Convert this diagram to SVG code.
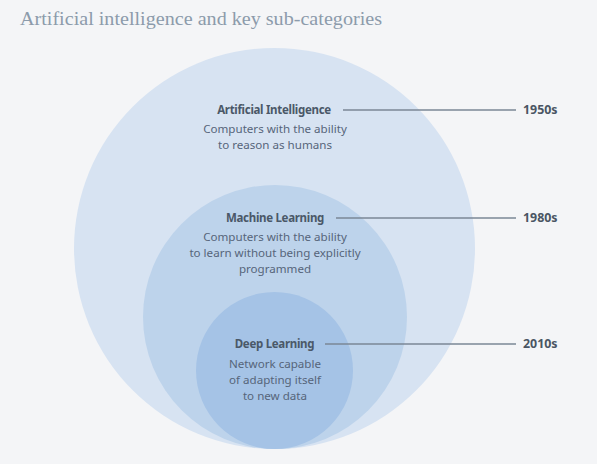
<svg xmlns="http://www.w3.org/2000/svg" width="597" height="464" viewBox="0 0 597 464">
<style>
.title{font-family:"Liberation Serif","DejaVu Serif",serif;font-size:19px;fill:#8c9bab}
.h{font-family:"Noto Sans","Open Sans",sans-serif;font-size:11.5px;font-weight:bold;fill:#4a5868;text-anchor:middle;letter-spacing:-0.3px}
.d{font-family:"Noto Sans","Open Sans",sans-serif;font-size:11.6px;fill:#56657a;text-anchor:middle}
.y{font-family:"Noto Sans","Open Sans",sans-serif;font-size:12.4px;font-weight:bold;fill:#4a5563}
.ln{stroke:#7b8796;stroke-width:1.5;fill:none}
</style>
<rect width="597" height="464" fill="#f4f5f7"/>
<text class="title" x="20" y="25" textLength="362" lengthAdjust="spacingAndGlyphs">Artificial intelligence and key sub-categories</text>
<g id="ai">
<circle cx="274.5" cy="248.5" r="200.5" fill="#d7e3f2"/>
<text class="h" x="274" y="114">Artificial Intelligence</text>
<text class="d" x="275" y="133">Computers with the ability</text>
<text class="d" x="275" y="149">to reason as humans</text>
</g>
<g id="ml">
<circle cx="275" cy="317" r="132" fill="#bdd3eb"/>
<text class="h" x="275" y="222">Machine Learning</text>
<text class="d" x="275" y="241">Computers with the ability</text>
<text class="d" x="275" y="257">to learn without being explicitly</text>
<text class="d" x="275" y="273">programmed</text>
</g>
<g id="dl">
<circle cx="274.5" cy="370.5" r="78.5" fill="#a5c3e6"/>
<text class="h" x="274.5" y="348">Deep Learning</text>
<text class="d" x="275" y="368">Network capable</text>
<text class="d" x="275" y="384">of adapting itself</text>
<text class="d" x="275" y="400">to new data</text>
</g>
<g id="connectors">
<line class="ln" x1="343" y1="110" x2="516" y2="110"/>
<line class="ln" x1="336" y1="218" x2="516" y2="218"/>
<line class="ln" x1="325" y1="344" x2="516" y2="344"/>
</g>
<g id="dates">
<text class="y" x="523" y="114">1950s</text>
<text class="y" x="523" y="222">1980s</text>
<text class="y" x="523" y="348">2010s</text>
</g>
</svg>
